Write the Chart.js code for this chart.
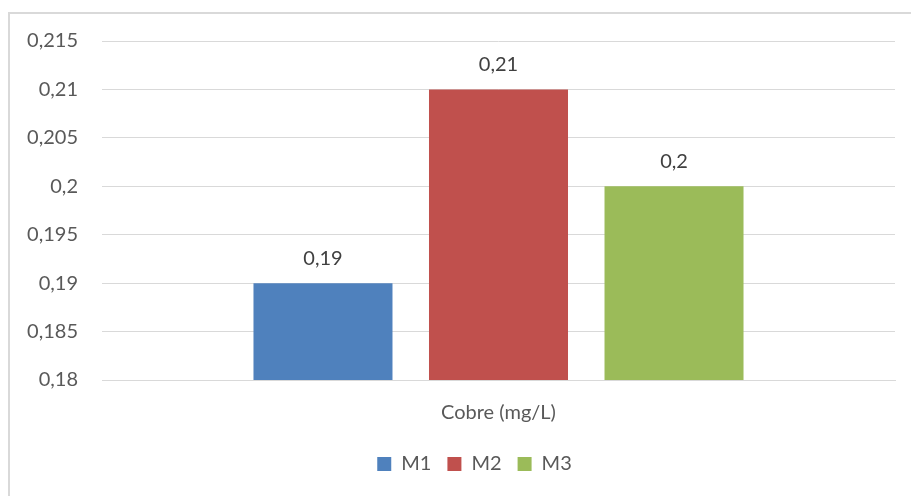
<!DOCTYPE html>
<html>
<head>
<meta charset="utf-8">
<script src="https://cdn.jsdelivr.net/npm/chart.js@4"></script>
<style>
  body { margin: 0; background: #fff; }
  #frame { position: absolute; left: 8px; top: 12px; width: 1000px; height: 600px; border: 2px solid #d9d9d9; }
  #wrap { position: absolute; left: 0; top: 0; width: 911px; height: 496px; }
</style>
</head>
<body>
<div id="frame"></div>
<div id="wrap"><canvas id="chart"></canvas></div>
<script>
const categories = ['Cobre (mg/L)'];
const seriesNames = ['M1', 'M2', 'M3'];
const seriesValues = [[0.19], [0.21], [0.2]];
const seriesColors = ['#4f81bd', '#c0504d', '#9bbb59'];
const yTicks = [0.18, 0.185, 0.19, 0.195, 0.2, 0.205, 0.21, 0.215];

Chart.defaults.font.family = 'Lato, "Open Sans", sans-serif';
Chart.defaults.font.size = 20;
Chart.defaults.color = '#595959';

const fmt = v => String(Number(v.toFixed(3))).replace('.', ',');

const barLabels = {
    id: 'barLabels',
    afterDatasetsDraw(chart) {
        const c = chart.ctx;
        c.save();
        c.font = '20px ' + Chart.defaults.font.family;
        c.fillStyle = '#404040';
        c.textAlign = 'center';
        c.textBaseline = 'middle';
        chart.data.datasets.forEach((ds, i) => {
            chart.getDatasetMeta(i).data.forEach((bar, j) => {
                c.fillText(fmt(ds.data[j]), bar.x, bar.y - 25);
            });
        });
        c.restore();
    }
};

// excel centres the legend a bit to the right of the plot
const legendShift = {
    id: 'legendShift',
    afterLayout(chart) {
        chart.legend.left += 27;
        chart.legend.right += 27;
    }
};

new Chart(document.getElementById('chart'), {
    type: 'bar',
    data: {
        labels: categories,
        datasets: seriesNames.map((name, i) => ({
            label: name,
            data: seriesValues[i],
            backgroundColor: seriesColors[i],
            categoryPercentage: 0.664,
            barPercentage: 0.792
        }))
    },
    options: {
        responsive: true,
        maintainAspectRatio: false,
        animation: false,
        layout: { padding: { left: 0, right: 16, top: 41, bottom: 12 } },
        plugins: {
            tooltip: { enabled: false },
            legend: {
                position: 'bottom',
                labels: {
                    boxWidth: 14,
                    boxHeight: 14,
                    padding: 16,
                    color: '#595959',
                    font: { size: 20 }
                }
            }
        },
        scales: {
            x: {
                grid: { display: false },
                border: { color: '#d9d9d9', width: 1 },
                ticks: { padding: 13 }
            },
            y: {
                min: 0.18,
                max: 0.215,
                afterFit: scale => { scale.width = 102; },
                afterBuildTicks: scale => { scale.ticks = yTicks.map(v => ({ value: v })); },
                grid: { color: '#d9d9d9', drawTicks: false },
                border: { display: false },
                ticks: {
                    padding: 24,
                    callback: v => fmt(v)
                }
            }
        }
    },
    plugins: [barLabels, legendShift]
});
</script>
</body>
</html>
